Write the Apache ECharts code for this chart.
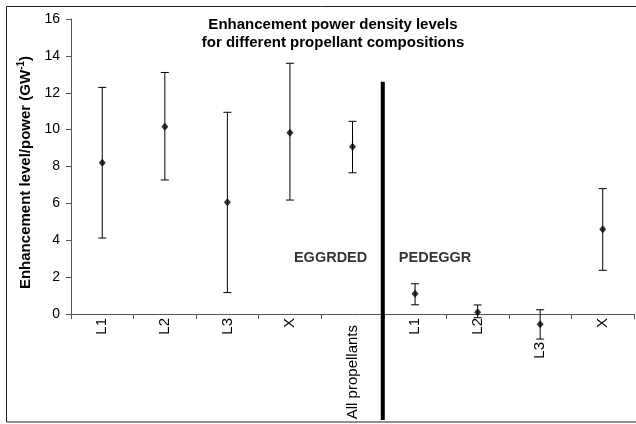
<!DOCTYPE html>
<html>
<head>
<meta charset="utf-8">
<script src="https://cdn.jsdelivr.net/npm/echarts@6/dist/echarts.min.js"></script>
<style>html,body{margin:0;padding:0;background:#fff}#c{width:636px;height:424px}</style>
</head>
<body>
<div id="c"></div>
<script>
var categories = ['L1', 'L2', 'L3', 'X', 'All propellants', 'L1', 'L2', 'L3', 'X'];
var means = [8.2, 10.16, 6.06, 9.83, 9.07, 1.10, 0.1, -0.56, 4.59];
var upper = [12.29, 13.1, 10.94, 13.6, 10.45, 1.64, 0.49, 0.23, 6.8];
var lower = [4.12, 7.27, 1.16, 6.18, 7.66, 0.5, -0.2, -1.36, 2.37];
var labelShift = [0, 0, 0, 0, 7, 0, 0, 24, 0];
var yTicks = {min: 0, max: 16, interval: 2};
var divider = [5, 12.6, -5.75];
var groupLabels = [
  {name: 'EGGRDED', x: 4.15, y: 3.04},
  {name: 'PEDEGGR', x: 5.82, y: 3.04}
];

var chart = echarts.init(document.getElementById('c'));
var font = 'Liberation Sans, Arial, sans-serif';

var catData = categories.map(function (c, i) {
  return {value: c, textStyle: {padding: [0, labelShift[i], 0, 0]}};
});
var pts = means.map(function (m, i) { return [i + 0.5, m]; });
var bars = means.map(function (m, i) { return [i + 0.5, lower[i], upper[i]]; });

chart.setOption({
  animation: false,
  textStyle: {fontFamily: font},
  graphic: [{
    type: 'rect', z: -1, silent: true,
    shape: {x: 6.5, y: 6.5, width: 640, height: 415.5},
    style: {fill: 'none', stroke: '#222', lineWidth: 1}
  }],
  title: {
    text: 'Enhancement power density levels\nfor different propellant compositions',
    left: 328, top: 11, textAlign: 'center',
    textStyle: {fontFamily: font, fontSize: 15, fontWeight: 'bold', color: '#000', lineHeight: 18}
  },
  grid: {left: 71, right: 2, top: 19, bottom: 110},
  xAxis: [{
    type: 'category', data: catData, boundaryGap: true,
    axisLine: {onZero: true, lineStyle: {color: '#555', width: 1}},
    axisTick: {show: true, interval: 0, length: 5, lineStyle: {color: '#555'}},
    axisLabel: {interval: 0, rotate: 90, fontSize: 15, color: '#000', margin: 4, fontFamily: font},
    splitLine: {show: false}
  }, {
    type: 'value', min: 0, max: 9, show: false
  }],
  yAxis: {
    type: 'value', min: yTicks.min, max: yTicks.max, interval: yTicks.interval,
    name: 'Enhancement level/power (GW{sup|-1})',
    nameLocation: 'middle', nameGap: 35,
    nameTextStyle: {fontSize: 15, fontWeight: 'bold', color: '#000', fontFamily: font,
      padding: [0, 12, 0, 0],
      rich: {sup: {fontSize: 10, fontWeight: 'bold', color: '#000', padding: [0, 0, 9, 0], fontFamily: font}}},
    axisLine: {show: true, lineStyle: {color: '#555'}},
    axisTick: {show: true, length: 5, lineStyle: {color: '#555'}},
    axisLabel: {fontSize: 14, color: '#000', margin: 11, fontFamily: font},
    splitLine: {show: false}
  },
  series: [{
    type: 'custom', xAxisIndex: 1, clip: false, data: bars,
    renderItem: function (params, api) {
      var x = api.value(0);
      var lo = api.coord([x, api.value(1)]);
      var hi = api.coord([x, api.value(2)]);
      var w = 4;
      var st = {stroke: '#000', lineWidth: 1};
      return {type: 'group', children: [
        {type: 'line', shape: {x1: lo[0], y1: lo[1], x2: hi[0], y2: hi[1]}, style: st},
        {type: 'line', shape: {x1: lo[0] - w, y1: lo[1], x2: lo[0] + w, y2: lo[1]}, style: st},
        {type: 'line', shape: {x1: hi[0] - w, y1: hi[1], x2: hi[0] + w, y2: hi[1]}, style: st}
      ]};
    }
  }, {
    type: 'scatter', xAxisIndex: 1, clip: false, data: pts,
    symbol: 'diamond', symbolSize: [7, 8], itemStyle: {color: '#000'}, z: 5
  }, {
    type: 'custom', xAxisIndex: 1, clip: false, data: [divider],
    renderItem: function (params, api) {
      var top = api.coord([api.value(0), api.value(1)]);
      var bot = api.coord([api.value(0), api.value(2)]);
      return {type: 'line', shape: {x1: top[0] - 1, y1: top[1], x2: bot[0] - 1, y2: bot[1]},
        style: {stroke: '#000', lineWidth: 4}};
    }
  }, {
    type: 'scatter', xAxisIndex: 1, clip: false, symbolSize: 0,
    data: groupLabels.map(function (g) { return {name: g.name, value: [g.x, g.y]}; }),
    label: {show: true, position: 'inside', formatter: '{b}', fontSize: 14.5, fontWeight: 'bold', color: '#000', fontFamily: font}
  }]
});
</script>
</body>
</html>
